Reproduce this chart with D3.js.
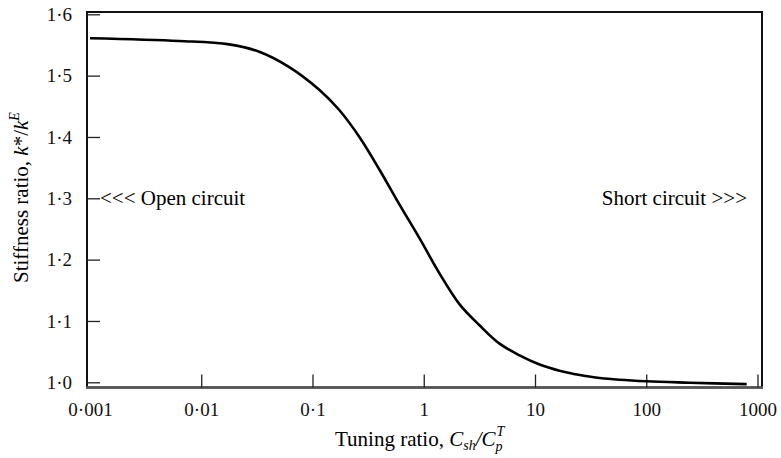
<!DOCTYPE html>
<html>
<head>
<meta charset="utf-8">
<script src="https://cdn.jsdelivr.net/npm/d3@7"></script>
<style>
  body { margin: 0; background: #fff; }
</style>
</head>
<body>
<div id="chart"></div>
<script>
// Tuning ratio (log scale) vs stiffness ratio
const tuning = [0.001, 0.00632, 0.0178, 0.0332, 0.0618, 0.115, 0.174, 0.264, 0.399, 0.604, 0.915,
  1.38, 2.10, 3.17, 4.80, 7.26, 11.0, 16.6, 25.3, 38.3, 100, 248, 800];
const stiffness = [1.561, 1.5565, 1.551, 1.539, 1.514, 1.477, 1.444, 1.400, 1.347, 1.290, 1.235,
  1.178, 1.127, 1.093, 1.063, 1.044, 1.029, 1.019, 1.012, 1.007, 1.0016, 0.9993, 0.997];

const xTicks = [0.001, 0.01, 0.1, 1, 10, 100, 1000];
const xTickLabels = ['0·001', '0·01', '0·1', '1', '10', '100', '1000'];
const yTicks = [1.0, 1.1, 1.2, 1.3, 1.4, 1.5, 1.6];
const yTickLabels = ['1·0', '1·1', '1·2', '1·3', '1·4', '1·5', '1·6'];

const width = 781, height = 458;
const frame = { left: 87, right: 762, top: 12, bottom: 387.5 };
const FONT = '"Liberation Serif", "Times New Roman", "DejaVu Serif", serif';

const svg = d3.select('#chart').append('svg')
  .attr('width', width)
  .attr('height', height)
  .attr('font-family', FONT);

const x = d3.scaleLog().domain([0.001, 1000]).range([90, 757.5]);
const y = d3.scaleLinear().domain([1.0, 1.6]).range([382.3, 14.3]);

// frame
svg.append('rect')
  .attr('x', frame.left).attr('y', frame.top)
  .attr('width', frame.right - frame.left)
  .attr('height', frame.bottom - frame.top)
  .attr('fill', 'none')
  .attr('stroke', '#111')
  .attr('stroke-width', 2);
svg.append('line')
  .attr('x1', frame.left - 1).attr('x2', frame.right + 1)
  .attr('y1', frame.bottom).attr('y2', frame.bottom)
  .attr('stroke', '#555')
  .attr('stroke-width', 2.5);

// axes, ticks pointing inward
const xAxis = svg.append('g')
  .attr('transform', `translate(0,${frame.bottom})`)
  .call(d3.axisBottom(x)
    .tickValues(xTicks)
    .tickFormat((d, i) => xTickLabels[i])
    .tickSizeInner(-13).tickSizeOuter(0).tickPadding(15));
xAxis.select('.domain').remove();
xAxis.selectAll('.tick line').attr('stroke', '#222').attr('stroke-width', 1.3)
  .filter(d => d === 0.001).remove();

const yAxis = svg.append('g')
  .attr('transform', `translate(${frame.left},0)`)
  .call(d3.axisLeft(y)
    .tickValues(yTicks)
    .tickFormat((d, i) => yTickLabels[i])
    .tickSizeInner(-13).tickSizeOuter(0).tickPadding(15));
yAxis.select('.domain').remove();
yAxis.selectAll('.tick line').attr('stroke', '#222').attr('stroke-width', 1.3);

svg.selectAll('g').attr('font-family', FONT);
svg.selectAll('.tick text')
  .attr('font-family', FONT)
  .attr('font-size', 19)
  .attr('fill', '#111');

// curve
const line = d3.line()
  .x((d, i) => x(tuning[i]))
  .y(d => y(d))
  .curve(d3.curveCatmullRom.alpha(0.5));

svg.append('path')
  .datum(stiffness)
  .attr('d', line)
  .attr('fill', 'none')
  .attr('stroke', '#000')
  .attr('stroke-width', 2.6);

// annotations
svg.append('text')
  .attr('x', 100).attr('y', 205)
  .attr('font-family', FONT)
  .attr('font-size', 21)
  .text('<<< Open circuit');
svg.append('text')
  .attr('x', 747).attr('y', 205)
  .attr('text-anchor', 'end')
  .attr('font-family', FONT)
  .attr('font-size', 21)
  .text('Short circuit >>>');

// x axis title
const xt = svg.append('text')
  .attr('x', 335).attr('y', 446)
  .attr('font-family', FONT)
  .attr('font-size', 21);
xt.append('tspan').text('Tuning ratio, ');
xt.append('tspan').attr('font-style', 'italic').text('C');
xt.append('tspan').attr('font-style', 'italic').attr('font-size', 14).attr('dy', 4).text('sh');
xt.append('tspan').attr('font-style', 'italic').attr('dy', -4).text('/');
xt.append('tspan').attr('font-style', 'italic').text('C');
xt.append('tspan').attr('font-style', 'italic').attr('font-size', 14).attr('dy', 5).text('p');
xt.append('tspan').attr('font-style', 'italic').attr('font-size', 14).attr('dx', -6).attr('dy', -15).text('T');

// y axis title
const yt = svg.append('text')
  .attr('transform', 'translate(28,283) rotate(-90)')
  .attr('font-family', FONT)
  .attr('font-size', 21);
yt.append('tspan').text('Stiffness ratio, ');
yt.append('tspan').attr('font-style', 'italic').text('k');
yt.append('tspan').text('*/');
yt.append('tspan').attr('font-style', 'italic').text('k');
yt.append('tspan').attr('font-style', 'italic').attr('font-size', 14).attr('dy', -9).text('E');
</script>
</body>
</html>
